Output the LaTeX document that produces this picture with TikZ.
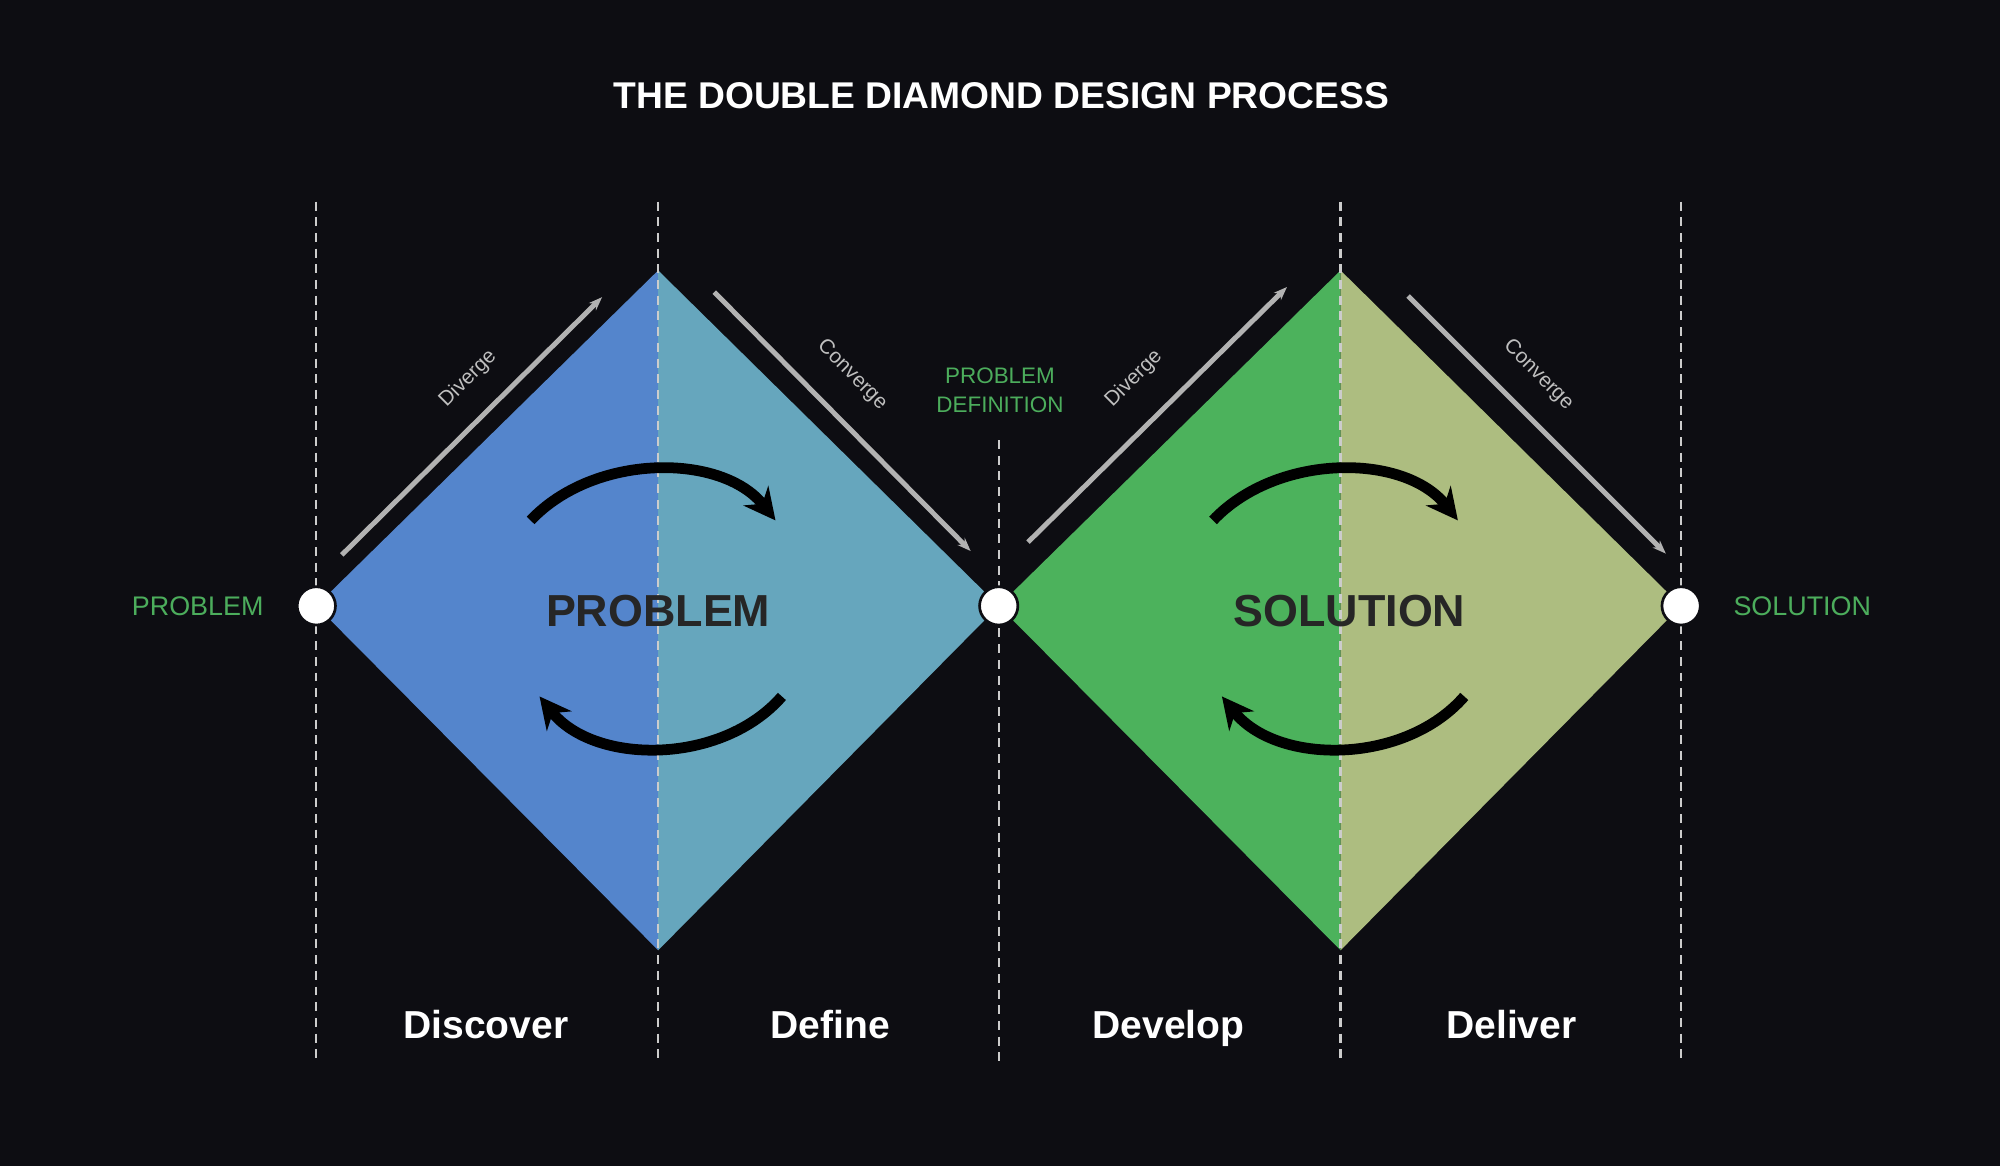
\documentclass[tikz,border=0pt]{standalone}
\usepackage{fontspec}
\setmainfont{Liberation Sans}
\usetikzlibrary{arrows.meta,positioning}
\definecolor{bg}{rgb}{0.05,0.05,0.07}
\definecolor{discover}{rgb}{0.33,0.52,0.80}
\definecolor{define}{rgb}{0.40,0.65,0.74}
\definecolor{develop}{rgb}{0.30,0.70,0.36}
\definecolor{deliver}{rgb}{0.68,0.74,0.50}
\definecolor{labelgreen}{rgb}{0.30,0.68,0.36}
\tikzset{phase/.style={dash pattern=on 2pt off 1.5pt, white!80!black, line width=0.5pt},
  vertex/.style={circle, fill=white, draw=bg, line width=0.6pt, minimum size=0.3cm, inner sep=0pt},
  guide/.style={-{Stealth[length=3pt]}, white!70!black, line width=1.1pt},
  cycle/.style={-{Stealth[length=7pt,width=7pt]}, black, line width=2.4pt},
  phasename/.style={white, anchor=base, font=\bfseries\fontsize{8.7}{10}\selectfont},
  sidename/.style={labelgreen, font=\fontsize{6}{7}\selectfont},
  small/.style={white!75!black, font=\fontsize{4.6}{5}\selectfont}}
\begin{document}
\begin{tikzpicture}[x=0.01cm,y=-0.01cm]
	\fill[bg] (0,0) rectangle (1568,914);
	\useasboundingbox (0,0) rectangle (1568,914);
	% diamonds
	\fill[discover] (248,475) -- (516,212) -- (516,745) -- cycle;
	\fill[define] (516,212) -- (783,475) -- (516,745) -- cycle;
	\fill[develop] (783,475) -- (1051,212) -- (1051,745) -- cycle;
	\fill[deliver] (1051,212) -- (1318,475) -- (1051,745) -- cycle;
	% phase lines
	\foreach \x in {248,516,1051,1318} \draw[phase] (\x,158) -- (\x,832);
	\draw[phase] (783,345) -- (783,832);
	\node[vertex] (P) at (248,475) {};
	\node[vertex] (D) at (783,475) {};
	\node[vertex] (S) at (1318,475) {};
	% texts
	\node[white, font=\bfseries\fontsize{8.3}{10}\selectfont] (title) at (785,75) {THE DOUBLE DIAMOND DESIGN PROCESS};
	\node[sidename] (lp) at (155,475) {PROBLEM};
	\node[sidename] (ls) at (1413,475) {SOLUTION};
	\node[sidename, align=center, font=\fontsize{5}{6.3}\selectfont] (pd) at (784,306) {PROBLEM\\DEFINITION};
	\node[phasename] (n1) at (381,814) {Discover};
	\node[phasename] (n2) at (651,814) {Define};
	\node[phasename] (n3) at (916,814) {Develop};
	\node[phasename] (n4) at (1185,814) {Deliver};
	\node[black!85, font=\bfseries\fontsize{10}{12}\selectfont] (w1) at (516,479) {PROBLEM};
	\node[black!85, font=\bfseries\fontsize{10}{12}\selectfont] (w2) at (1058,479) {SOLUTION};
	% guides
	\coordinate (a1) at (268,435); \coordinate (b1) at (472,233);
	\coordinate (a2) at (560,229); \coordinate (b2) at (761,432);
	\coordinate (a3) at (806,425); \coordinate (b3) at (1009,225);
	\coordinate (a4) at (1104,232); \coordinate (b4) at (1306,434);
	\draw[guide] (a1) -- (b1);
	\draw[guide] (a2) -- (b2);
	\draw[guide] (a3) -- (b3);
	\draw[guide] (a4) -- (b4);
	\node[small, rotate=45] at (367,297) {Diverge};
	\node[small, rotate=-45] at (668,294) {Converge};
	\node[small, rotate=45] at (889,297) {Diverge};
	\node[small, rotate=-45] at (1206,294) {Converge};
	% cycles
	\foreach \c in {516,1051} {
		\draw[cycle] (\c-100,408) .. controls (\c-50,355) and (\c+50,355) .. (\c+92,408);
		\draw[cycle] (\c+97,546) .. controls (\c+50,600) and (\c-50,600) .. (\c-93,546);
	}
\end{tikzpicture}
\end{document}
